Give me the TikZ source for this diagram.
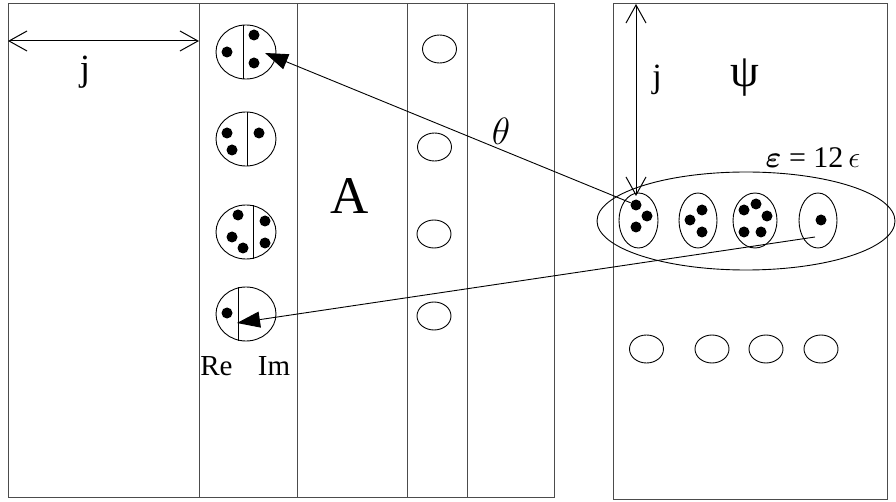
\RequirePackage{fix-cm}
\documentclass[tikz,border=0pt]{standalone}
\usepackage{fontspec}
\setmainfont{Liberation Serif}
\usepackage{amsmath,bm}
\usetikzlibrary{arrows.meta, shapes.geometric}

\begin{document}
\begin{tikzpicture}[x=1pt, y=-1pt,
    frame/.style={draw=black!70, line width=1pt},
    cell/.style={ellipse, draw, line width=0.9pt, inner sep=0pt},
    dot/.style={circle, fill, inner sep=0pt, minimum size=11pt},
    span/.style={{Straight Barb[length=18pt,width=20pt]}-{Straight Barb[length=18pt,width=20pt]}, line width=1pt},
    link/.style={-{Triangle[length=23pt,width=16pt]}, line width=0.9pt}]
\useasboundingbox (0,0) rectangle (896,502);
\draw[frame] (8,4) rectangle (554,497);
\foreach \x in {199,297,407,467}{
    \draw[frame] (\x,4) -- (\x,497);
}
\draw[frame] (613,4) rectangle (887,499);

% split cells
\foreach \i/\y/\a in {1/52/96,2/139/86,3/232/75,4/314/105}{
    \node[cell, minimum width=60pt, minimum height=54pt] (c\i) at (246,\y) {};
    \draw[line width=0.9pt] (c\i.\a) -- (c\i.-\a);
}
\foreach \x/\y [count=\i] in {227/52,254/35,254/63, 227/133,232/150,259/133,
        238/215,232/237,243/248,265/221,265/243, 227/313}{
    \node[dot] (d\i) at (\x,\y) {};
}
\foreach \x/\y [count=\i] in {439.5/49,434.5/147,434/234,434/316}{
    \node[cell, minimum width=34pt, minimum height=28pt] (o\i) at (\x,\y) {};
}

% right block
\node[cell, minimum width=298pt, minimum height=98pt] (grp) at (746,221) {};
\foreach \i/\x/\w in {1/638.5/39,2/698/38,3/755/44,4/818/38}{
    \node[cell, minimum width=\w, minimum height=55pt] (q\i) at (\x,220.5) {};
}
\foreach \x/\y [count=\i] in {636/205,647/216,636/227, 702/210,690/220,702/232,
        756/204,744/210,767/216,744/232,761/232, 821/220}{
    \node[dot] (r\i) at (\x,\y) {};
}
\foreach \x [count=\i] in {646.5,712,766,821}{
    \node[cell, minimum width=34pt, minimum height=28pt] (b\i) at (\x,349) {};
}

\coordinate (ja) at (8,41);
\coordinate (jb) at (199,41);
\coordinate (ka) at (636,4);
\coordinate (kb) at (636,196);
\draw[span] (ja) -- (jb);
\draw[span] (ka) -- (kb);

\coordinate (t1) at (265,53);
\coordinate (t4) at (237,323);
\coordinate (s4) at (815,237);
\draw[link] (r1) -- (t1);
\draw[link] (s4) -- (t4);

\node (jt) at (85,72) {\fontsize{37}{40}\selectfont j};
\node (jt2) at (657,80) {\fontsize{34}{38}\selectfont j};
\node (ta) at (350,196) {\fontsize{53}{60}\selectfont A};
\node (th) at (501,131) {\fontsize{38}{42}\selectfont $\theta$};
\node (ps) at (745,78) {\fontsize{46}{50}\selectfont ψ};
\node (eq) at (813,158) {\fontsize{30}{34}\selectfont $\bm{\varepsilon}$ = 12\,$\epsilon$};
\node (re) at (216.5,366) {\fontsize{29}{32}\selectfont Re};
\node (im) at (274,366) {\fontsize{29}{32}\selectfont Im};
\end{tikzpicture}
\end{document}
